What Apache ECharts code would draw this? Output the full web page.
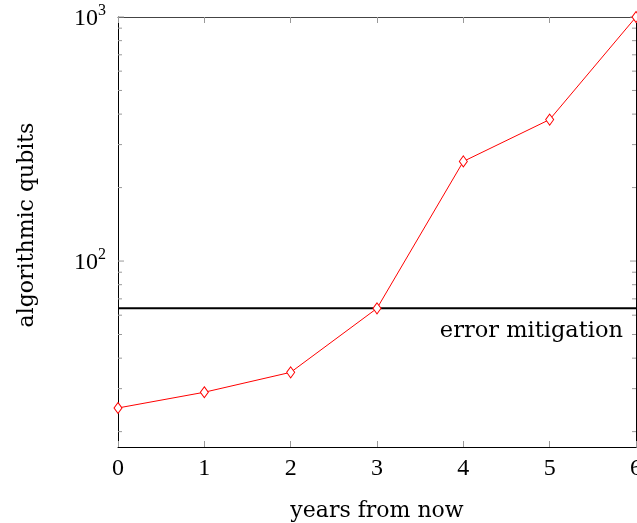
<!DOCTYPE html>
<html><head><meta charset="utf-8">
<script src="https://cdn.jsdelivr.net/npm/echarts@6/dist/echarts.min.js"></script>
<style>html,body{margin:0;padding:0;background:#fff}#c{width:637px;height:523px}</style>
</head><body><div id="c"></div>
<script>
const years = [0, 1, 2, 3, 4, 5, 6];
const qubits = [25, 29, 35, 64, 256, 380, 1000];
const mitigationLevel = 64;
const mitigationLabel = 'error mitigation';
const yMajorTicks = [100, 1000];
const yMinorTicks = [20, 30, 40, 50, 60, 70, 80, 90, 200, 300, 400, 500, 600, 700, 800, 900];
const yMin = 17.3, yMax = 1000;
const FONT = '"Liberation Serif", serif';
const WFONT = '"DejaVu Serif", serif';

const chart = echarts.init(document.getElementById('c'), null, {renderer: 'canvas'});

const tickData = yMajorTicks.map(v => [v, 6]).concat(yMinorTicks.map(v => [v, 4]));

chart.setOption({
  animation: false,
  grid: {left: 118, right: 1, top: 17, bottom: 76, containLabel: false, outerBoundsMode: 'none'},
  xAxis: [{
    type: 'value', min: 0, max: 6, interval: 1, position: 'bottom',
    name: 'years from now', nameLocation: 'middle', nameGap: 53,
    nameTextStyle: {fontFamily: WFONT, fontSize: 22, color: '#000'},
    axisLine: {show: true, onZero: false, lineStyle: {color: '#000', width: 1}},
    axisTick: {show: true, inside: true, length: 6, lineStyle: {color: '#999'}},
    axisLabel: {fontFamily: FONT, fontSize: 24, color: '#000', margin: 10},
    splitLine: {show: false}
  }, {
    type: 'value', min: 0, max: 6, interval: 1, position: 'top',
    axisLine: {show: true, onZero: false, lineStyle: {color: '#444', width: 1}},
    axisTick: {show: true, inside: true, length: 6, lineStyle: {color: '#999'}},
    axisLabel: {show: false}, splitLine: {show: false}
  }],
  yAxis: [{
    type: 'log', logBase: 10, min: yMin, max: yMax, position: 'left',
    name: 'algorithmic qubits', nameLocation: 'middle', nameGap: 80, nameRotate: 90,
    nameTextStyle: {fontFamily: WFONT, fontSize: 22, color: '#000', padding: [0, 0, 0, 14]},
    axisLine: {show: true, onZero: false, lineStyle: {color: '#000', width: 1}},
    axisTick: {show: false},
    axisLabel: {
      margin: 12, color: '#000',
      formatter: function (v) {
        const e = Math.round(Math.log10(v));
        if (Math.abs(Math.pow(10, e) - v) > 1e-6 * v) return '';
        return '{b|10}{s|' + e + '}';
      },
      rich: {
        b: {fontFamily: FONT, fontSize: 24, color: '#000', verticalAlign: 'bottom'},
        s: {fontFamily: FONT, fontSize: 16, color: '#000', verticalAlign: 'top', padding: [0, 0, 12, 0]}
      }
    },
    splitLine: {show: false}
  }, {
    type: 'log', logBase: 10, min: yMin, max: yMax, position: 'right',
    axisLine: {show: true, onZero: false, lineStyle: {color: '#000', width: 1}},
    axisTick: {show: false}, axisLabel: {show: false}, splitLine: {show: false}
  }],
  series: [{
    type: 'custom', xAxisIndex: 0, yAxisIndex: 0, silent: true, z: 1,
    data: tickData,
    renderItem: function (params, api) {
      const y = api.coord([0, api.value(0)])[1];
      const x0 = params.coordSys.x, x1 = params.coordSys.x + params.coordSys.width;
      const len = api.value(1);
      const st = {stroke: '#999', lineWidth: 1};
      return {type: 'group', children: [
        {type: 'line', shape: {x1: x0, y1: y, x2: x0 + len, y2: y}, style: st},
        {type: 'line', shape: {x1: x1, y1: y, x2: x1 - len, y2: y}, style: st}
      ]};
    },
    encode: {x: -1, y: 0}
  }, {
    type: 'line', xAxisIndex: 0, yAxisIndex: 0, z: 3,
    data: [[0, mitigationLevel], [6, mitigationLevel]],
    symbol: 'none', lineStyle: {color: '#000', width: 2},
    markLine: {
      silent: true, symbol: 'none',
      lineStyle: {color: 'rgba(0,0,0,0)', width: 2, type: 'solid'},
      data: [{yAxis: mitigationLevel}],
      label: {show: true, formatter: mitigationLabel, position: 'insideEndBottom', distance: [13, 11],
        fontFamily: WFONT, fontSize: 22.5, color: '#000'}
    }
  }, {
    type: 'line', xAxisIndex: 0, yAxisIndex: 0, z: 4,
    data: years.map((x, i) => [x, qubits[i]]),
    symbol: 'diamond', symbolSize: [8, 11], showSymbol: true,
    itemStyle: {color: '#fff', borderColor: '#ff0000', borderWidth: 1},
    lineStyle: {color: '#ff0000', width: 1},
    clip: false
  }]
});
</script></body></html>
